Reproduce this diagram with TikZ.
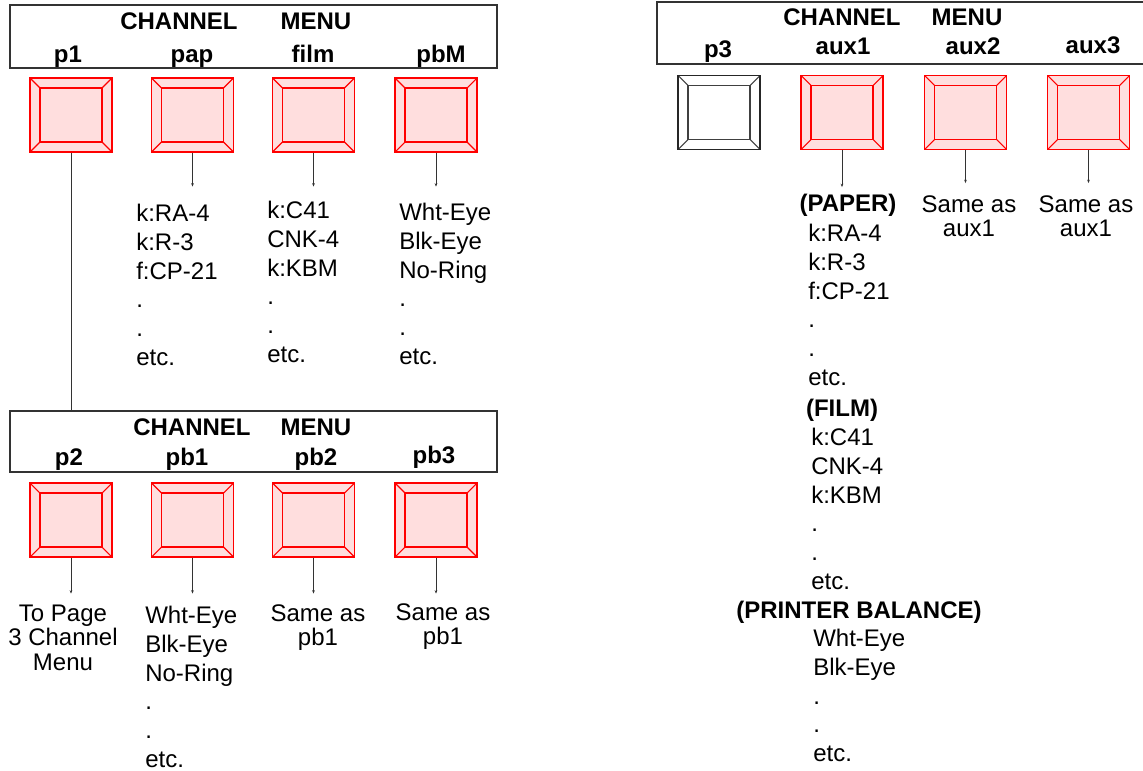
\documentclass[tikz,border=0pt]{standalone}
\usepackage{fontspec}
\setmainfont{Liberation Sans}
\usetikzlibrary{arrows.meta,positioning}

% beveled push button: inner face plus the four corner cuts
\newcommand{\btnbevel}[1]{%
  \draw[#1] ([shift={(7.5pt,-7.5pt)}]path picture bounding box.north west) rectangle ([shift={(-7.5pt,7.5pt)}]path picture bounding box.south east);
  \foreach \c/\dx/\dy in {north west/1/-1, north east/-1/-1, south west/1/1, south east/-1/1}
    \draw[#1] (path picture bounding box.\c) -- ++(\dx*7.5pt,\dy*7.5pt);
}

\tikzset{
  btn/.style={rectangle, draw=red, fill=red!13, line width=0.8pt, inner sep=0pt,
    minimum width=61.5pt, minimum height=55.5pt,
    path picture={\btnbevel{red, line width=0.8pt}}},
  btnoff/.style={rectangle, draw=black!85, fill=white, line width=0.8pt, inner sep=0pt,
    minimum width=61.5pt, minimum height=55.5pt,
    path picture={\btnbevel{black!75, line width=0.8pt}}},
  hbox/.style={rectangle, draw=black!80, line width=1pt, inner sep=0pt},
  hdr/.style={anchor=base, inner sep=0pt, font=\fontsize{18}{21.5}\selectfont\bfseries},
  lst/.style={anchor=north west, align=left, inner sep=0pt},
  note/.style={anchor=north, align=center, inner sep=0pt, font=\fontsize{18}{18.4}\selectfont},
  stem/.style={black!80, line width=0.7pt, -{Stealth[length=2.5pt, width=2pt]}}
}

\begin{document}
\begin{tikzpicture}[x=0.75pt, y=-0.75pt, font=\fontsize{18}{21.5}\selectfont]
    \useasboundingbox (0,0) rectangle (1143,771);

    % page 1 channel menu
    \node[hbox, minimum width=365.25pt, minimum height=47.25pt] (menuA) at (253.5,36.5) {};
    \node[hdr] (chanA) at (179,30) {CHANNEL};
    \node[hdr] (menuAtxt) at (316,30) {MENU};
    \node[hdr] (p1txt) at (68,62) {p1};
    \node[hdr] (paptxt) at (192,62) {pap};
    \node[hdr] (filmtxt) at (313,62) {film};
    \node[hdr] (pbMtxt) at (441,62) {pbM};

    \node[btn] (p1) at (71,115) {};
    \node[btn] (pap) at (192.5,115) {};
    \node[btn] (film) at (313.5,115) {};
    \node[btn] (pbM) at (436,115) {};

    \draw[stem] (pap.south) -- ++(0,34);
    \draw[stem] (film.south) -- ++(0,34);
    \draw[stem] (pbM.south) -- ++(0,34);

    \node[lst] (paplist) at (136,204.3) {k:RA-4\\k:R-3\\f:CP-21\\.\\.\\etc.};
    \node[lst] (filmlist) at (267,201.3) {k:C41\\CNK-4\\k:KBM\\.\\.\\etc.};
    \node[lst] (pbMlist) at (399,203.3) {Wht-Eye\\Blk-Eye\\No-Ring\\.\\.\\etc.};

    % page 2 channel menu
    \node[hbox, minimum width=365.25pt, minimum height=45.75pt] (menuB) at (253.5,441.5) {};
    \node[hdr] (chanB) at (192,435) {CHANNEL};
    \node[hdr] (menuBtxt) at (316,435) {MENU};
    \node[hdr] (p2txt) at (69,465) {p2};
    \node[hdr] (pb1txt) at (187,465) {pb1};
    \node[hdr] (pb2txt) at (316,465) {pb2};
    \node[hdr] (pb3txt) at (434,463) {pb3};

    \draw[black!80, line width=0.7pt] (p1.south) -- (p1.south |- menuB.north);

    \node[btn] (p2) at (71,520) {};
    \node[btn] (pb1) at (192.5,520) {};
    \node[btn] (pb2) at (313.5,520) {};
    \node[btn] (pb3) at (436,520) {};

    \draw[stem] (p2.south) -- ++(0,36);
    \draw[stem] (pb1.south) -- ++(0,36);
    \draw[stem] (pb2.south) -- ++(0,36);
    \draw[stem] (pb3.south) -- ++(0,36);

    \node[note] (p2note) at (63,604.3) {To Page\\3 Channel\\Menu};
    \node[lst] (pb1list) at (145,606.3) {Wht-Eye\\Blk-Eye\\No-Ring\\.\\.\\etc.};
    \node[note] (pb2note) at (318,604.3) {Same as\\pb1};
    \node[note] (pb3note) at (443,603.3) {Same as\\pb1};

    % page 3 channel menu
    \node[hbox, minimum width=366.75pt, minimum height=46.5pt] (menuC) at (901.5,33) {};
    \node[hdr] (chanC) at (842,26) {CHANNEL};
    \node[hdr] (menuCtxt) at (967,26) {MENU};
    \node[hdr] (p3txt) at (718,57) {p3};
    \node[hdr] (aux1txt) at (843,54) {aux1};
    \node[hdr] (aux2txt) at (973,55) {aux2};
    \node[hdr] (aux3txt) at (1093,53) {aux3};

    \node[btnoff] (p3) at (719,112.5) {};
    \node[btn] (aux1) at (842,112.5) {};
    \node[btn] (aux2) at (965.5,112.5) {};
    \node[btn] (aux3) at (1088.5,112.5) {};

    \draw[stem] (aux1.south) -- ++(0,37);
    \draw[stem] (aux2.south) -- ++(0,33);
    \draw[stem] (aux3.south) -- ++(0,33);

    \node[note] (aux2note) at (969,195.3) {Same as\\aux1};
    \node[note] (aux3note) at (1086,195.3) {Same as\\aux1};

    \node[hdr] (paperhd) at (848,211.5) {(PAPER)};
    \node[lst] (paperlist) at (808,224.3) {k:RA-4\\k:R-3\\f:CP-21\\.\\.\\etc.};
    \node[hdr] (filmhd) at (842,416.5) {(FILM)};
    \node[lst] (filmlist3) at (811,428.3) {k:C41\\CNK-4\\k:KBM\\.\\.\\etc.};
    \node[hdr] (balhd) at (859,618.5) {(PRINTER BALANCE)};
    \node[lst] (ballist) at (813,629.3) {Wht-Eye\\Blk-Eye\\.\\.\\etc.};
\end{tikzpicture}
\end{document}
